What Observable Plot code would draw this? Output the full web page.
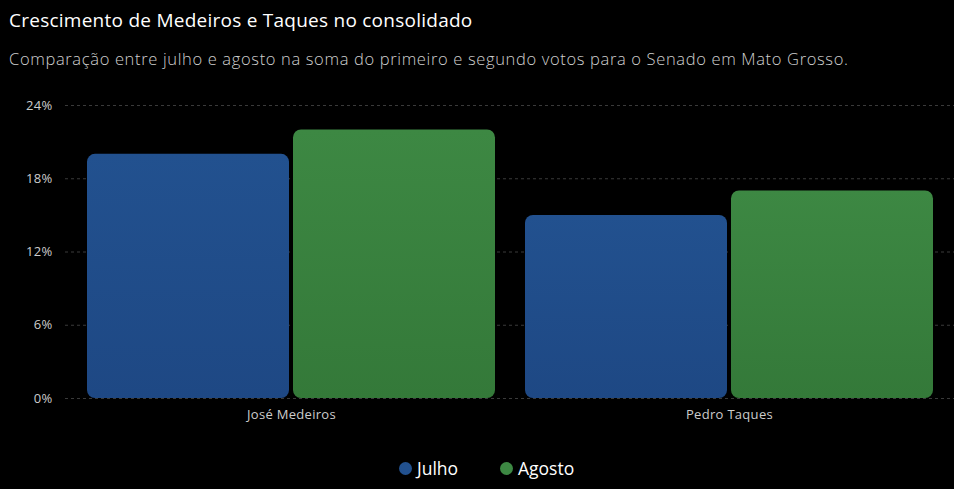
<!DOCTYPE html>
<html>
<head>
<meta charset="utf-8">
<script src="https://cdn.jsdelivr.net/npm/d3@7"></script>
<script src="https://cdn.jsdelivr.net/npm/@observablehq/plot@0.6"></script>
<style>
  html, body { margin: 0; padding: 0; background: #000; width: 954px; height: 489px; overflow: hidden; }
  body { position: relative; font-family: "Open Sans", "Noto Sans", sans-serif; }
  #title { position: absolute; left: 9px; top: 8px; height: 24px; line-height: 24px; font-size: 19px; letter-spacing: 0.25px; color: #fff; font-weight: 500; white-space: nowrap; }
  #subtitle { position: absolute; left: 9px; top: 47px; height: 24px; line-height: 24px; font-size: 16.5px; letter-spacing: 0.65px; color: #cfcfcf; font-weight: 300; white-space: nowrap; }
  .layer { position: absolute; left: 0; top: 85px; }
  #legend { position: absolute; left: 0; top: 456px; width: 954px; height: 24px; font-size: 17.5px; color: #fff; }
  .item { position: absolute; top: 0; height: 24px; display: flex; align-items: center; }
  .dot { width: 13px; height: 13px; border-radius: 50%; margin-right: 5px; }
  svg text { letter-spacing: 0.3px; }
</style>
</head>
<body>
<div id="title">Crescimento de Medeiros e Taques no consolidado</div>
<div id="subtitle">Comparação entre julho e agosto na soma do primeiro e segundo votos para o Senado em Mato Grosso.</div>
<div id="grid" class="layer"></div>
<div id="bars" class="layer"></div>
<div id="legend"></div>
<script>
const candidatos = ["José Medeiros", "Pedro Taques"];
const meses = ["Julho", "Agosto"];
const julho = [20, 15];
const agosto = [22, 17];
const yTicks = [0, 6, 12, 18, 24];
const coresTopo = ["#22518f", "#3d8843"];
const coresBase = ["#1e4884", "#347939"];

const data = [];
candidatos.forEach((c, i) => {
  data.push({cand: c, mes: meses[0], val: julho[i]});
  data.push({cand: c, mes: meses[1], val: agosto[i]});
});

const W = 954, H = 345;
const common = {
  width: W, height: H,
  marginLeft: 65, marginRight: 0, marginTop: 20, marginBottom: 32,
  style: {background: "transparent", color: "#cccccc", fontFamily: "'Open Sans', 'Noto Sans', sans-serif", fontSize: "13px"}
};

const gridPlot = Plot.plot({
  ...common,
  y: {domain: [0, 24]},
  marks: [
    Plot.gridY(yTicks, {stroke: "#3a3a3a", strokeOpacity: 1, strokeDasharray: "3,3"}),
    Plot.axisY(yTicks, {tickSize: 0, tickPadding: 13, tickFormat: d => d + "%", fill: "#cccccc", fontSize: 13, label: null})
  ]
});
document.getElementById("grid").appendChild(gridPlot);

const barPlot = Plot.plot({
  ...common,
  fx: {domain: candidatos, paddingInner: 0.069, paddingOuter: 0.048, label: null, axis: "bottom", tickSize: 0, tickPadding: 11},
  x: {domain: meses, paddingInner: 0.02, paddingOuter: 0, axis: null},
  y: {domain: [0, 24], axis: null},
  color: {domain: meses, range: ["url(#gradJulho)", "url(#gradAgosto)"]},
  marks: [
    Plot.barY(data, {fx: "cand", x: "mes", y: "val", fill: "mes", rx: 8, ry: 8})
  ]
});
const ids = ["gradJulho", "gradAgosto"];
const defs = ids.map((id, i) =>
  `<linearGradient id="${id}" x1="0" y1="0" x2="0" y2="1"><stop offset="0" stop-color="${coresTopo[i]}"/><stop offset="1" stop-color="${coresBase[i]}"/></linearGradient>`
).join("");
barPlot.insertAdjacentHTML("afterbegin", `<defs>${defs}</defs>`);
document.getElementById("bars").appendChild(barPlot);

const legend = document.getElementById("legend");
const legendLeft = [399, 500];
meses.forEach((m, i) => {
  const it = document.createElement("div");
  it.className = "item";
  it.style.left = legendLeft[i] + "px";
  it.innerHTML = `<span class="dot" style="background:${coresTopo[i]}"></span><span>${m}</span>`;
  legend.appendChild(it);
});
</script>
</body>
</html>
